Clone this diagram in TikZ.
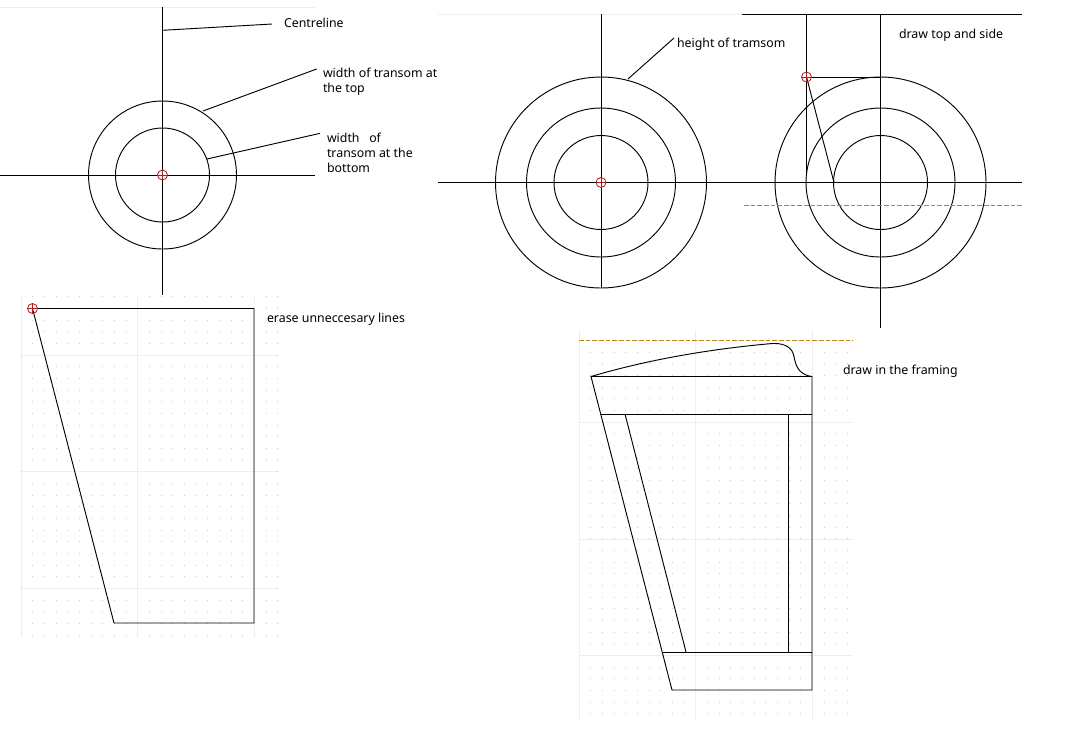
\documentclass[tikz,border=0pt]{standalone}
\usepackage{fontspec}
\setmainfont{Noto Sans}
\usetikzlibrary{positioning}
\usetikzlibrary{calc}
\definecolor{inkline}{HTML}{000000}
\definecolor{gridline}{HTML}{EEEEEE}
\definecolor{griddot}{HTML}{CCCCCC}
\definecolor{markred}{HTML}{A81C1C}
\definecolor{guideorange}{HTML}{B8860B}
\tikzset{
    base/.style={x=0.75pt, y=-0.75pt, line width=0.7pt, inkline},
    label/.style={anchor=north west, align=left, inner sep=0pt, outer sep=0pt, font=\fontsize{9.27}{11.25}\selectfont, text=inkline},
    faint/.style={gridline, line width=0.7pt},
    guide/.style={guideorange, line width=0.7pt, dash pattern=on 3.5pt off 1.5pt},
    snapstyle/.style={markred, line width=0.6pt}
}
% red snap marker
\newcommand*{\snapmark}[1]{
    \draw [snapstyle] (#1) circle (5);
    \draw [snapstyle] ($(#1)+(-5,0)$) -- ($(#1)+(5,0)$);
    \draw [snapstyle] ($(#1)+(0,-5)$) -- ($(#1)+(0,5)$);
}
% dotted drawing grid: #1 left, #2 top, #3 columns, #4 rows
\newcommand*{\griddots}[4]{
    \foreach \i in {0,...,#3}
        \foreach \j in {0,...,#4}
            \fill [griddot] ({#1+\i*11.667-0.4},{#2+\j*11.667-0.4}) rectangle ++(0.9,0.9);
}
\begin{document}
\begin{tikzpicture}[base]
    \path [use as bounding box] (0,0) rectangle (1070,744);
    \fill [white] (0,0) rectangle (1070,744);

    % grids
    \griddots{21}{296.7}{22}{29}
    \griddots{590.67}{352}{22}{31}
    \draw [faint] (0,7) -- (315,7);
    \draw [faint] (438,14.5) -- (742,14.5);
    \foreach \gx in {21,137.5,254}
        \draw [faint] (\gx,296) -- (\gx,635);
    \foreach \gy in {355,471,588}
        \draw [faint] (20,\gy) -- (277,\gy);
    \foreach \gx in {579,695,812}
        \draw [faint] (\gx,330) -- (\gx,720);
    \foreach \gy in {422,539,655}
        \draw [faint] (579,\gy) -- (853,\gy);

    % first sketch
    \coordinate (hub) at (162.5,175);
    \draw (162.5,7) -- (162.5,295);
    \draw (0,175) -- (315,175);
    \draw (hub) circle (74);
    \draw (hub) circle (47);
    \snapmark{hub}
    \node [label] (centre) at (284,18) {Centreline};
    \node [label] (topwidth) at (323,68) {width of transom at\\the top};
    \node [label] (botwidth) at (327,133) {width\ \ \ of\\transom at the\\bottom};
    \coordinate (centrefoot) at (162.5,30.3);
    \coordinate (topfoot) at (203,111);
    \coordinate (botfoot) at (207,159);
    \draw (centrefoot) -- ([xshift=-9pt,yshift=-4.5pt]centre.north west);
    \draw (topfoot) -- ([xshift=-4.75pt,yshift=-0.75pt]topwidth.north west);
    \draw (botfoot) -- ([xshift=-5.25pt,yshift=-0.25pt]botwidth.north west);

    % second sketch
    \coordinate (hubA) at (601,182.5);
    \coordinate (hubB) at (880.5,182.5);
    \coordinate (snap) at (806.5,77);
    \foreach \r in {105.5,74.5,47} {
        \draw (hubA) circle (\r);
        \draw (hubB) circle (\r);
    }
    \draw (601,14) -- (601,288);
    \draw (880.5,14) -- (880.5,328);
    \draw (438,182.5) -- (1022,182.5);
    \draw (742,14.5) -- (1022,14.5);
    \draw (806.5,14.5) -- (806.5,176);
    \draw (snap) -- (880.5,77);
    \draw (snap) -- (834,182.5);
    \draw [guide] (744,205) -- (1022,205);
    \snapmark{hubA}
    \snapmark{snap}
    \node [label] (height) at (677,38) {height of tramsom};
    \node [label] (topside) at (899,29.5) {draw top and side};
    \coordinate (heightfoot) at (628,79);
    \draw (heightfoot) -- ([xshift=-2.25pt]height.north west);

    % third sketch
    \coordinate (snapC) at (32.5,308.5);
    \draw (snapC) -- (254,308.5) -- (254,623) -- (114,623) -- cycle;
    \snapmark{snapC}
    \node [label] (erase) at (267,313.5) {erase unneccesary lines};

    % fourth sketch
    \draw [guide] (579,340.5) -- (853,340.5);
    \draw (591,376.5) -- (812,376.5) -- (812,690) -- (672,690) -- cycle;
    \draw (600.5,414) -- (812,414);
    \draw (662.5,652) -- (812,652);
    \draw (625,414) -- (686,652);
    \draw (788.5,414) -- (788.5,652);
    \draw (591,376.5) .. controls (640,362) and (700,350) .. (770,343.7)
        .. controls (782,342.5) and (790,346) .. (793,353)
        .. controls (795,358) and (794,364) .. (800,371)
        .. controls (803,374) and (807,376) .. (812,376.5);
    \node [label] (framing) at (843,365.5) {draw in the framing};
\end{tikzpicture}
\end{document}
